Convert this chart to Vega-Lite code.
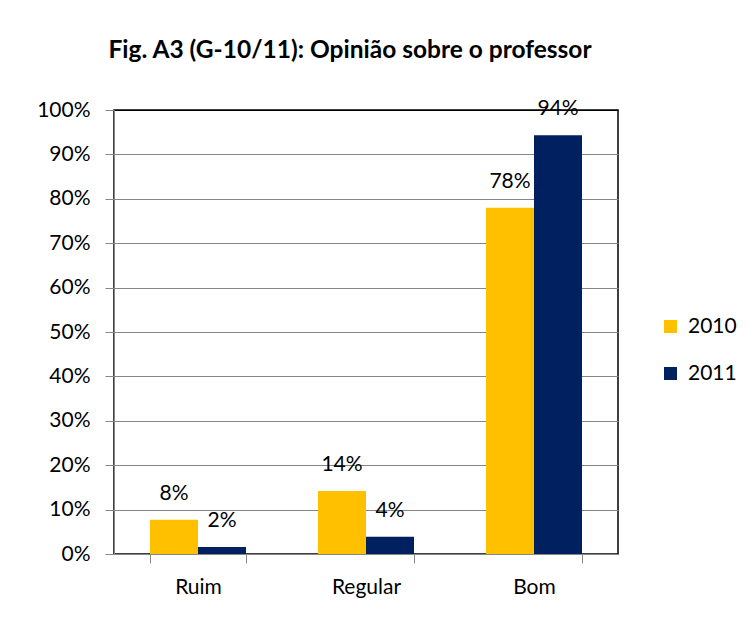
{
  "$schema": "https://vega.github.io/schema/vega-lite/v6.json",
  "width": 504,
  "height": 444,
  "autosize": {"type": "none"},
  "padding": {"left": 114, "top": 110, "right": 132, "bottom": 67},
  "background": "white",
  "title": {
    "text": "Fig. A3 (G-10/11): Opinião sobre o professor",
    "font": "Lato",
    "fontSize": 24.5,
    "fontWeight": "bold",
    "color": "black",
    "anchor": "middle",
    "dx": -16,
    "offset": 16,
    "baseline": "alphabetic"
  },
  "data": {
    "values": [
      {"categoria": "Ruim", "ano": "2010", "valor": 0.077},
      {"categoria": "Ruim", "ano": "2011", "valor": 0.016},
      {"categoria": "Regular", "ano": "2010", "valor": 0.142},
      {"categoria": "Regular", "ano": "2011", "valor": 0.039},
      {"categoria": "Bom", "ano": "2010", "valor": 0.78},
      {"categoria": "Bom", "ano": "2011", "valor": 0.943}
    ]
  },
  "encoding": {
    "x": {
      "field": "categoria",
      "type": "nominal",
      "sort": ["Ruim", "Regular", "Bom"],
      "scale": {"paddingInner": 0.4286, "paddingOuter": 0.2143},
      "axis": {
        "title": null,
        "labelAngle": 0,
        "tickBand": "extent",
        "domainColor": "#868686",
        "tickColor": "#868686",
        "tickSize": 9,
        "labelFontSize": 21,
        "labelPadding": 13,
        "labelColor": "black",
        "labelFont": "Lato",
        "grid": false
      }
    },
    "xOffset": {"field": "ano", "type": "nominal"},
    "y": {
      "field": "valor",
      "type": "quantitative",
      "scale": {"domain": [0, 1]},
      "axis": {
        "title": null,
        "format": ".0%",
        "values": [0, 0.1, 0.2, 0.3, 0.4, 0.5, 0.6, 0.7, 0.8, 0.9, 1],
        "tickSize": 9,
        "tickColor": "#868686",
        "domainColor": "#868686",
        "gridColor": {"condition": {"test": "datum.value >= 1", "value": "black"}, "value": "#868686"},
        "labelFontSize": 21,
        "labelFont": "Lato",
        "labelColor": "black",
        "labelPadding": 15
      }
    }
  },
  "layer": [
    {
      "mark": {"type": "bar"},
      "encoding": {
        "color": {
          "field": "ano",
          "type": "nominal",
          "scale": {"range": ["#FFC000", "#002060"]},
          "legend": {
            "title": null,
            "orient": "none",
            "legendX": 546,
            "legendY": 206,
            "symbolType": "square",
            "symbolSize": 169,
            "symbolStrokeWidth": 0,
            "labelFontSize": 21,
            "labelFont": "Lato",
            "labelColor": "black",
            "labelOffset": 7,
            "rowPadding": 25
          }
        }
      }
    },
    {
      "mark": {"type": "text", "baseline": "middle", "dy": -26, "font": "Lato", "fontSize": 21, "color": "black"},
      "encoding": {"text": {"field": "valor", "format": ".0%"}}
    }
  ],
  "config": {"view": {"stroke": "black", "strokeWidth": 1.5}}
}
